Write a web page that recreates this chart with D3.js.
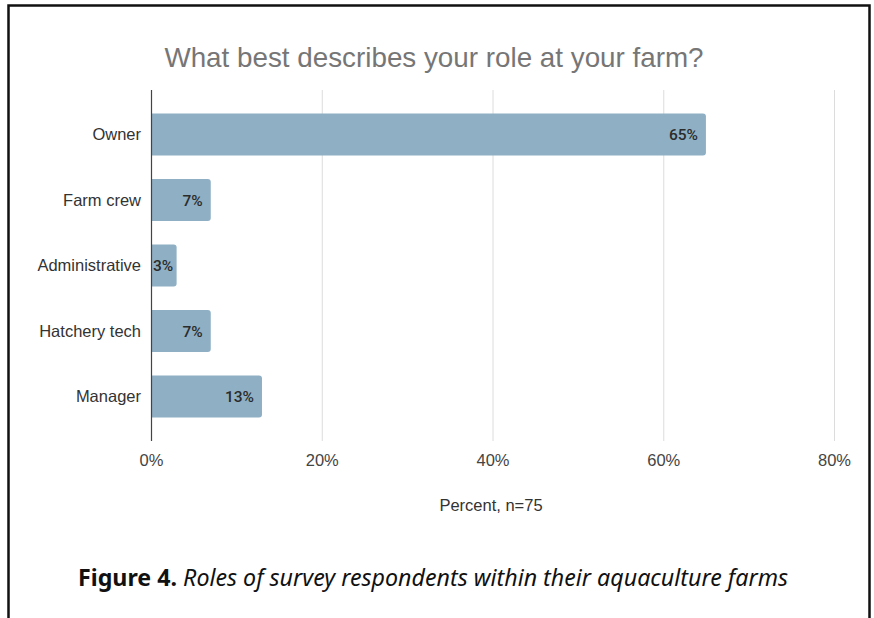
<!DOCTYPE html>
<html>
<head>
<meta charset="utf-8">
<script src="https://cdn.jsdelivr.net/npm/d3@7/dist/d3.min.js"></script>
<style>
  html, body { margin: 0; padding: 0; background: #fff; }
  svg { display: block; }
</style>
</head>
<body>
<div id="chart"></div>
<script>
// Survey responses: role of respondent at the farm (percent of n=75)
const roles = ["Owner", "Farm crew", "Administrative", "Hatchery tech", "Manager"];
const percents = [65, 7, 3, 7, 13];
const xTicks = [0, 20, 40, 60, 80];
const chartTitle = "What best describes your role at your farm?";
const axisTitle = "Percent, n=75";
const captionLead = "Figure 4.";
const captionText = " Roles of survey respondents within their aquaculture farms";

const W = 874, H = 618;
const svg = d3.select("#chart").append("svg")
  .attr("width", W).attr("height", H);

const sans = "Liberation Sans, Arial, sans-serif";

// Frame around the figure (open at the bottom edge of the page)
svg.append("path")
  .attr("d", `M8.5,${H + 5} V5.5 H869.5 V${H + 5}`)
  .attr("fill", "none")
  .attr("stroke", "#111")
  .attr("stroke-width", 2.5);

const x = d3.scaleLinear().domain([0, 80]).range([151, 834]);
const y = d3.scaleBand().domain(roles).range([90, 441])
  .paddingInner(0.36).paddingOuter(0.36);

// Title
svg.append("text")
  .attr("x", 434).attr("y", 67)
  .attr("text-anchor", "middle")
  .attr("font-family", sans)
  .attr("font-size", 27.8)
  .attr("fill", "#767676")
  .text(chartTitle);

// Vertical gridlines
svg.append("g")
  .selectAll("line")
  .data(xTicks.filter(d => d > 0))
  .join("line")
  .attr("x1", d => x(d) + 0.5).attr("x2", d => x(d) + 0.5)
  .attr("y1", 90).attr("y2", 441)
  .attr("stroke", "#dcdcdc").attr("stroke-width", 1);

// Bars with rounded right corners
const r = 3;
svg.append("g")
  .selectAll("path")
  .data(roles.map((c, i) => ({ c, v: percents[i] })))
  .join("path")
  .attr("fill", "#8fb0c4")
  .attr("d", d => {
    const x0 = x(0), x1 = x(d.v), y0 = y(d.c), h = y.bandwidth();
    return `M${x0},${y0} H${x1 - r} Q${x1},${y0} ${x1},${y0 + r}` +
      ` V${y0 + h - r} Q${x1},${y0 + h} ${x1 - r},${y0 + h} H${x0} Z`;
  });

// Value labels inside bars
const vals = svg.append("g")
  .selectAll("text")
  .data(roles.map((c, i) => ({ c, v: percents[i] })))
  .join("text")
  .attr("y", d => y(d.c) + y.bandwidth() / 2)
  .attr("dy", "0.36em")
  .attr("font-family", "Roboto, sans-serif")
  .attr("font-weight", 500)
  .attr("font-size", 15.5)
  .attr("fill", "#2b2b2b")
  .text(d => d.v + "%");
vals.each(function (d) {
  const w = this.getComputedTextLength();
  const end = Math.max(x(d.v) - 8, x(0) + 2 + w);
  d3.select(this).attr("x", end).attr("text-anchor", "end");
});

// Category labels
svg.append("g")
  .selectAll("text")
  .data(roles)
  .join("text")
  .attr("x", 141)
  .attr("y", d => y(d) + y.bandwidth() / 2)
  .attr("dy", "0.36em")
  .attr("text-anchor", "end")
  .attr("font-family", sans)
  .attr("font-size", 16.5)
  .attr("fill", "#333")
  .text(d => d);

// Baseline axis
svg.append("line")
  .attr("x1", x(0) + 0.5).attr("x2", x(0) + 0.5)
  .attr("y1", 90).attr("y2", 441)
  .attr("stroke", "#444").attr("stroke-width", 1.2);

// X tick labels
const xAxis = d3.axisBottom(x).tickValues(xTicks)
  .tickFormat(d => d + "%").tickSize(0).tickPadding(0);
const gx = svg.append("g").attr("transform", "translate(0,454)").call(xAxis);
gx.select(".domain").remove();
gx.selectAll("text")
  .attr("font-family", sans)
  .attr("font-size", 16.5)
  .attr("fill", "#444");

// Axis title
svg.append("text")
  .attr("x", 491).attr("y", 511)
  .attr("text-anchor", "middle")
  .attr("font-family", sans)
  .attr("font-size", 16.5)
  .attr("fill", "#333")
  .text(axisTitle);

// Figure caption
const cap = svg.append("text")
  .attr("x", 78).attr("y", 586)
  .attr("font-family", "Noto Sans, Open Sans, sans-serif")
  .attr("font-size", 24)
  .attr("fill", "#111");
cap.append("tspan").attr("font-weight", 700).text(captionLead);
cap.append("tspan").attr("font-style", "italic").text(captionText);
cap.attr("textLength", 710).attr("lengthAdjust", "spacingAndGlyphs");
</script>
</body>
</html>
